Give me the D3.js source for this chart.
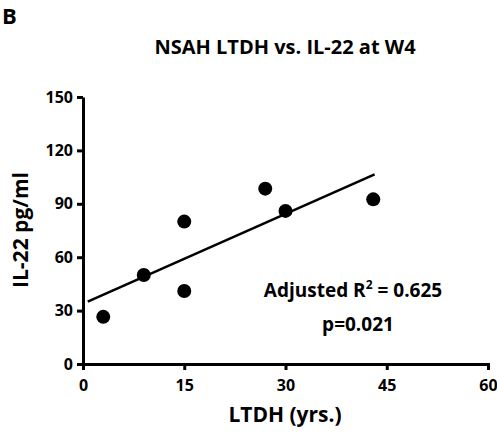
<!DOCTYPE html>
<html>
<head>
<meta charset="utf-8">
<script src="https://cdn.jsdelivr.net/npm/d3@7"></script>
<style>
  body { margin: 0; background: #fff; }
  text { font-family: "Open Sans", "Liberation Sans", sans-serif; font-weight: bold; fill: #000; }
</style>
</head>
<body>
<div id="chart"></div>
<script>
const ltdh = [3, 9, 15, 15, 27, 30, 43]
const il22 = [26.5, 50, 80, 41, 98.5, 86, 92.5]
const fitX = [0.7, 43.2]
const fitY = [35, 106.5]
const xTicks = [0, 15, 30, 45, 60]
const yTicks = [0, 30, 60, 90, 120, 150]

const width = 497, height = 440
const margin = { top: 97, right: 9, bottom: 76, left: 83 }

const svg = d3.select('#chart').append('svg')
  .attr('width', width).attr('height', height)

const x = d3.scaleLinear().domain([0, 60]).range([margin.left, width - margin.right])
const y = d3.scaleLinear().domain([0, 150]).range([height - margin.bottom, margin.top])

const xAxis = svg.append('g')
  .attr('transform', `translate(0, ${y(0)})`)
  .call(d3.axisBottom(x).tickValues(xTicks).tickSize(6).tickSizeOuter(0))
const yAxis = svg.append('g')
  .attr('transform', `translate(${x(0)}, 0)`)
  .call(d3.axisLeft(y).tickValues(yTicks).tickSize(6).tickSizeOuter(0))

;[xAxis, yAxis].forEach(g => {
  g.select('.domain').attr('stroke-width', 3)
  g.selectAll('.tick line').attr('stroke-width', 3)
  g.selectAll('.tick text').style('font-size', '16px')
})
xAxis.selectAll('.tick line').attr('y1', -1)
xAxis.selectAll('.tick text').attr('dy', '1.15em')
yAxis.selectAll('.tick text').attr('x', -10)

svg.append('line')
  .attr('x1', x(fitX[0])).attr('y1', y(fitY[0]))
  .attr('x2', x(fitX[1])).attr('y2', y(fitY[1]))
  .attr('stroke', '#000').attr('stroke-width', 2.5)

svg.selectAll('circle').data(ltdh).join('circle')
  .attr('cx', d => x(d))
  .attr('cy', (d, i) => y(il22[i]))
  .attr('r', 7)
  .attr('fill', '#000')

svg.append('text').attr('x', 2).attr('y', 24).style('font-size', '22px').text('B')
svg.append('text').attr('x', 285).attr('y', 54).attr('text-anchor', 'middle')
  .style('font-size', '20px').text('NSAH LTDH vs. IL-22 at W4')
svg.append('text').attr('x', 285).attr('y', 422).attr('text-anchor', 'middle')
  .style('font-size', '21px').text('LTDH (yrs.)')
svg.append('text').attr('transform', 'translate(28, 230) rotate(-90)').attr('text-anchor', 'middle')
  .style('font-size', '21px').text('IL-22 pg/ml')

const ann = svg.append('text').attr('x', 353).attr('y', 297).attr('text-anchor', 'middle')
  .style('font-size', '19px')
ann.append('tspan').text('Adjusted R')
ann.append('tspan').attr('dy', -8).style('font-size', '12px').text('2')
ann.append('tspan').attr('dy', 8).text(' = 0.625')
svg.append('text').attr('x', 358).attr('y', 331).attr('text-anchor', 'middle')
  .style('font-size', '19px').text('p=0.021')
</script>
</body>
</html>
